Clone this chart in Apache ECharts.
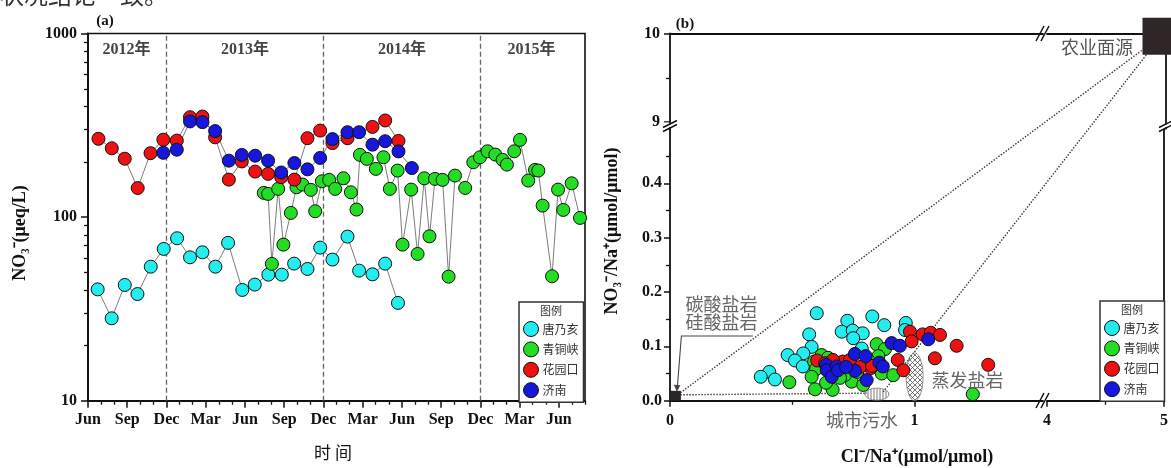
<!DOCTYPE html>
<html><head><meta charset="utf-8">
<script src="https://cdn.jsdelivr.net/npm/echarts@6/dist/echarts.min.js"></script>
<style>html,body{margin:0;padding:0;background:#fff;}#c{width:1171px;height:468px;}</style>
</head><body><div id="c"></div>
<script>
// ---------- data ----------
const stations = ['唐乃亥', '青铜峡', '花园口', '济南'];
const colors = ['#22eef0', '#22dd22', '#ee1111', '#1616dd'];
const monthNames = ['Jun', 'Sep', 'Dec', 'Mar'];   // month index 0 = Jun 2012
const majorMonths = [0, 3, 6, 9, 12, 15, 18, 21, 24, 27, 30, 33, 36];
const yearDividers = [6, 18, 30];
const yearLabels = ['2012年', '2013年', '2014年', '2015年'];
const yearLabelMonths = [2.95, 12, 24, 33.9];
const logTicks = [10, 100, 1000];

const tangMonth = [0.74,1.81,2.81,3.78,4.8,5.79,6.81,7.8,8.75,9.74,10.71,11.8,12.75,13.79,14.82,15.76,16.78,17.75,18.69,19.84,20.73,21.75,22.72,23.7];
const tangNO3 = [40.4,28.1,42.7,38.1,53.7,67.1,76.7,60.4,64.3,53.7,72.4,40.1,42.9,48.6,48.6,55.8,52.2,68.2,58.7,78.3,51.1,48.8,55.8,34.1];

const qtxMonth = [13.44,13.77,14.06,14.54,14.94,15.51,15.94,16.40,17.04,17.37,17.88,18.44,18.90,19.53,20.10,20.53,20.79,21.32,22.01,22.59,23.08,23.67,24.05,24.71,25.20,25.71,26.11,26.53,27.11,27.57,28.06,28.84,29.46,29.97,30.55,31.14,31.70,32.03,32.59,33.03,33.66,34.18,34.43,34.76,35.48,35.94,36.34,36.98,37.62];
const qtxNO3 = [135.5,133.8,55.6,142.5,70.8,105.4,145.4,150.4,140.7,107.6,156.7,159.5,142.5,162.7,136.5,109.9,218.3,207.6,183.1,211.8,142.5,179.2,70.8,141.2,63,162.7,78.6,161.5,159.5,47.4,168.3,144.2,198.9,211.8,228.3,219.1,205,193.2,228.3,263.5,158.1,180.8,179.2,115.5,47.6,141.2,109.4,152.8,99];

const hykMonth = [0.80,1.82,2.81,3.8,4.78,5.76,6.79,7.8,8.75,9.72,10.77,11.76,12.78,13.77,14.77,15.78,16.78,17.75,18.69,19.84,21.75,22.72,23.74];
const hykNO3 = [267,237,208,144,223,264,261,350,353,272,160,201,177,172,165,160,269,296,253,269,310,336,260];

const jnMonth = [5.76,6.79,7.8,8.75,9.72,10.77,11.76,12.78,13.77,14.77,15.78,16.78,17.75,18.69,19.84,20.73,21.75,22.72,23.74,24.76];
const jnNO3 = [224,233,332,329,294,203,218,216,203,175,197,182,210,266,290,290,248,259,228,185];

// panel b: Cl-/Na+ and NO3-/Na+
const tangCl = [0.600,0.827,0.725,0.876,0.964,0.961,0.702,0.747,0.788,0.749,0.569,0.579,0.545,0.481,0.511,0.543,0.406,0.371,0.429,0.784];
const tangRatio = [0.161,0.155,0.147,0.139,0.143,0.130,0.127,0.129,0.124,0.115,0.122,0.099,0.087,0.084,0.074,0.063,0.053,0.044,0.039,0.096];
const qtxCl = [0.488,0.589,0.597,0.579,0.593,0.665,0.620,0.743,0.766,0.790,0.845,0.879,0.852,0.866,0.913,1.238,0.646,0.715,0.810,0.638,0.695];
const qtxRatio = [0.034,0.072,0.058,0.044,0.021,0.020,0.084,0.035,0.053,0.029,0.104,0.095,0.082,0.050,0.047,0.012,0.079,0.047,0.075,0.033,0.042];
const hykCl = [0.602,0.634,0.706,0.736,0.821,0.931,0.954,0.981,0.988,1.033,1.066,1.104,1.172,1.083,1.301,0.777,0.666,0.826];
const hykRatio = [0.074,0.069,0.072,0.075,0.060,0.075,0.056,0.127,0.109,0.122,0.125,0.121,0.101,0.078,0.066,0.062,0.075,0.064];
const jnCl = [0.638,0.641,0.661,0.682,0.756,0.800,0.756,0.804,0.856,0.870,0.906,0.940,1.056,0.687,0.720];
const jnRatio = [0.066,0.056,0.044,0.063,0.086,0.082,0.055,0.038,0.070,0.063,0.106,0.101,0.113,0.056,0.062];

// end members
const carbonate = [0.022, 0.009];
const sewage = [0.846, 0.012];
const evaporite = [1.0, 0.044];
const agriculture = [4.958, 9.97];
const endLabels = { carbonate: ['碳酸盐岩', '硅酸盐岩'], sewage: '城市污水', evaporite: '蒸发盐岩', agriculture: '农业面源' };

const yTicksLow = [0, 0.1, 0.2, 0.3, 0.4];
const yMinorLow = [0.05, 0.15, 0.25, 0.35, 0.45];
const yTicksHigh = [9, 10];
const xTicksLeft = [0, 1];
const xTicksRight = [4, 5];

// ---------- helpers ----------
const SERIF = '"Liberation Serif","Noto Sans CJK SC",serif';
const CJK = '"Noto Sans CJK SC",sans-serif';
const zip = (a, b) => a.map((v, i) => [v, b[i]]);
const range = (a, b) => { const r = []; for (let i = a; i <= b; i++) r.push(i); return r; };
const lbl = { fontFamily: SERIF, fontWeight: 'bold', fontSize: 16, color: '#111' };
const axLine = { show: true, lineStyle: { color: '#111', width: 1.8 } };
function majorAxis(extra) {
  return Object.assign({ type: 'value', splitLine: { show: false }, axisLine: axLine }, extra);
}
function minorAxis(extra, vals) {
  return Object.assign({ type: 'value', splitLine: { show: false }, axisLine: { show: false },
    axisLabel: { show: false }, axisTick: { show: true, length: 4, customValues: vals, lineStyle: { color: '#111', width: 1.3 } } }, extra);
}
function lineOnly(extra) {
  return Object.assign({ type: 'value', splitLine: { show: false }, axisLine: axLine,
    axisTick: { show: false }, axisLabel: { show: false } }, extra);
}

const minorMonths = range(0, 38).filter(m => m % 3 !== 0);
const minorLog = [20,30,40,50,60,70,80,90,200,300,400,500,600,700,800,900];

const chart = echarts.init(document.getElementById('c'), null, { renderer: 'canvas' });

const aData = [zip(tangMonth, tangNO3), zip(qtxMonth, qtxNO3), zip(hykMonth, hykNO3), zip(jnMonth, jnNO3)];
const bData = [zip(tangCl, tangRatio), zip(qtxCl, qtxRatio), zip(hykCl, hykRatio), zip(jnCl, jnRatio)];

const series = [];
aData.forEach((d, i) => {
  series.push({
    type: 'line', name: stations[i], xAxisIndex: 0, yAxisIndex: 0, data: d,
    symbol: 'circle', symbolSize: 13, z: 3,
    itemStyle: { color: colors[i], borderColor: '#111', borderWidth: 1 },
    lineStyle: { color: '#444', width: 0.7 },
    markLine: i === 0 ? {
      silent: true, symbol: 'none', label: { show: false }, z: 1,
      lineStyle: { type: [5, 3], color: '#666', width: 1.3 },
      data: yearDividers.map(m => ({ xAxis: m }))
    } : undefined,
    animation: false
  });
});
bData.forEach((d, i) => {
  series.push({
    type: 'scatter', name: stations[i], xAxisIndex: 2, yAxisIndex: 2, data: d,
    symbol: 'circle', symbolSize: 13, z: 4,
    itemStyle: { color: colors[i], borderColor: '#111', borderWidth: 1, opacity: 1 },
    animation: false
  });
});
series.push({ type: 'scatter', name: '碳酸盐岩', xAxisIndex: 2, yAxisIndex: 2, data: [carbonate],
  symbol: 'rect', symbolSize: [11, 10], itemStyle: { color: '#2a2424', opacity: 1 }, z: 5, animation: false });
series.push({ type: 'scatter', name: '农业面源', xAxisIndex: 7, yAxisIndex: 7, data: [agriculture],
  symbol: 'rect', symbolSize: 37, clip: false, itemStyle: { color: '#2f2727', opacity: 1 }, z: 6, animation: false });

const option = {
  animation: false,
  backgroundColor: '#fff',
  grid: [
    { left: 88, top: 33.5, width: 497, height: 367.2, show: true, borderColor: '#111', borderWidth: 1.6, containLabel: false },
    { left: 670, top: 128.9, width: 373, height: 271.8 },   // LL
    { left: 670, top: 33.5, width: 373, height: 88.5 },     // UL
    { left: 1047, top: 128.9, width: 119, height: 271.8 },  // LR
    { left: 1047, top: 33.5, width: 119, height: 88.5 }     // UR
  ],
  xAxis: [
    majorAxis({ gridIndex: 0, min: 0, max: 38, position: 'bottom',
      axisTick: { show: true, length: 7, customValues: majorMonths, lineStyle: { color: '#111', width: 1.5 } },
      axisLabel: Object.assign({ customValues: majorMonths, margin: 11, formatter: v => monthNames[Math.round(v / 3) % 4] }, lbl) }),
    minorAxis({ gridIndex: 0, min: 0, max: 38, position: 'bottom' }, minorMonths),
    majorAxis({ gridIndex: 1, min: 0, max: 1.525, position: 'bottom',
      axisTick: { show: true, length: 6, customValues: xTicksLeft, lineStyle: { color: '#111', width: 1.5 } },
      axisLabel: Object.assign({ customValues: xTicksLeft, margin: 12, formatter: v => String(v) }, lbl) }),
    minorAxis({ gridIndex: 1, min: 0, max: 1.525, position: 'bottom' }, [0.5]),
    lineOnly({ gridIndex: 2, min: 0, max: 1.525, position: 'top' }),
    majorAxis({ gridIndex: 3, min: 4, max: 5, position: 'bottom',
      axisTick: { show: true, length: 6, customValues: xTicksRight, lineStyle: { color: '#111', width: 1.5 } },
      axisLabel: Object.assign({ customValues: xTicksRight, margin: 12, formatter: v => String(v) }, lbl) }),
    minorAxis({ gridIndex: 3, min: 4, max: 5, position: 'bottom' }, [4.5]),
    lineOnly({ gridIndex: 4, min: 4, max: 5, position: 'top' })
  ],
  yAxis: [
    { type: 'log', logBase: 10, gridIndex: 0, min: 10, max: 1000, position: 'left',
      splitLine: { show: false }, axisLine: axLine,
      axisTick: { show: true, length: 7, customValues: logTicks, lineStyle: { color: '#111', width: 1.5 } },
      axisLabel: Object.assign({ customValues: logTicks, margin: 11, formatter: v => String(Math.round(v)) }, lbl) },
    { type: 'log', logBase: 10, gridIndex: 0, min: 10, max: 1000, position: 'left',
      splitLine: { show: false }, axisLine: { show: false }, axisLabel: { show: false },
      axisTick: { show: true, length: 4, customValues: minorLog, lineStyle: { color: '#111', width: 1.3 } } },
    majorAxis({ gridIndex: 1, min: 0, max: 0.5, position: 'left',
      axisTick: { show: true, length: 6, customValues: yTicksLow, lineStyle: { color: '#111', width: 1.5 } },
      axisLabel: Object.assign({ customValues: yTicksLow, margin: 8, formatter: v => v.toFixed(1) }, lbl) }),
    minorAxis({ gridIndex: 1, min: 0, max: 0.5, position: 'left' }, yMinorLow),
    majorAxis({ gridIndex: 2, min: 9, max: 10, position: 'left',
      axisTick: { show: true, length: 6, customValues: yTicksHigh, lineStyle: { color: '#111', width: 1.5 } },
      axisLabel: Object.assign({ customValues: yTicksHigh, margin: 10, formatter: v => String(v) }, lbl) }),
    minorAxis({ gridIndex: 2, min: 9, max: 10, position: 'left' }, [9.5]),
    lineOnly({ gridIndex: 3, min: 0, max: 0.5, position: 'right' }),
    lineOnly({ gridIndex: 4, min: 9, max: 10, position: 'right' })
  ],
  legend: [0, 1].map(k => ({
    data: stations, left: k === 0 ? 519 : 1100, top: k === 0 ? 302 : 301,
    orient: 'vertical', icon: 'circle', itemWidth: 15, itemHeight: 15, itemGap: 4.4,
    padding: [19, 5, 4, 4], borderColor: '#333', borderWidth: 1.5, backgroundColor: '#fff',
    selectedMode: false, z: 10,
    itemStyle: { borderColor: '#111', borderWidth: 1 },
    textStyle: { fontFamily: CJK, fontSize: 12, color: '#333', padding: [0, 0, 0, -1] }
  })),
  series: series
};
chart.setOption(option);

// ---------- annotations positioned through the chart's own scales ----------
function px(xi, yi, p) { return chart.convertToPixel({ xAxisIndex: xi, yAxisIndex: yi }, p); }
function hatch(kind) {
  const c = document.createElement('canvas');
  c.width = c.height = kind === 'v' ? 3 : 5;
  const g = c.getContext('2d');
  g.strokeStyle = '#555'; g.lineWidth = 0.8;
  g.beginPath();
  if (kind === 'v') { g.moveTo(1, 0); g.lineTo(1, 3); }
  else { g.moveTo(0, 0); g.lineTo(5, 5); g.moveTo(5, 0); g.lineTo(0, 5); }
  g.stroke();
  return { image: c, repeat: 'repeat' };
}
const pCarb = px(2, 2, carbonate);
const pSew = px(2, 2, sewage);
const pEva = px(2, 2, evaporite);
const pAgri = px(7, 7, agriculture);
const dotted = { stroke: '#333', lineWidth: 1.4, lineDash: [1.4, 1.6], fill: null };
const txt = (x, y, s, o) => ({ type: 'text', x: x, y: y, silent: true, z: 20,
  style: Object.assign({ text: s, fill: '#666', font: '18px ' + CJK, textAlign: 'center', textVerticalAlign: 'middle' }, o || {}) });
const seg = (x1, y1, x2, y2, st) => ({ type: 'line', silent: true, z: 20,
  shape: { x1, y1, x2, y2 }, style: Object.assign({ stroke: '#111', lineWidth: 1.5 }, st || {}) });

const yearGraphics = yearLabels.map((s, i) => {
  const p = px(0, 0, [yearLabelMonths[i], 800]);
  return txt(p[0], 50, s, { fill: '#444', font: 'bold 16px ' + SERIF });
});

const graphic = [
  // partial sentence at top (cropped in the source)
  { type: 'text', x: 0, y: 7, silent: true, style: { text: '状况结论一致。', fill: '#333', font: '24px ' + CJK, textVerticalAlign: 'bottom' } },
  txt(105, 21, '(a)', { fill: '#111', font: 'bold 15px ' + SERIF }),
  txt(685, 24, '(b)', { fill: '#111', font: 'bold 15px ' + SERIF }),
  { type: 'text', x: 20, y: 233, rotation: Math.PI / 2, silent: true,
    style: { text: 'NO₃⁻(μeq/L)', fill: '#111', font: 'bold 18px ' + SERIF, textAlign: 'center', textVerticalAlign: 'middle' } },
  txt(333, 453, '时 间', { fill: '#111', font: '17px ' + CJK }),
  { type: 'text', x: 612, y: 231, rotation: Math.PI / 2, silent: true,
    style: { text: 'NO₃⁻/Na⁺(μmol/μmol)', fill: '#111', font: 'bold 18px ' + SERIF, textAlign: 'center', textVerticalAlign: 'middle' } },
  txt(917, 457, 'Cl⁻/Na⁺(μmol/μmol)', { fill: '#111', font: 'bold 18px ' + SERIF }),
  txt(551, 311, '图例', { fill: '#333', font: '11px ' + CJK }),
  txt(1132, 310, '图例', { fill: '#333', font: '11px ' + CJK }),
  // mixing lines
  { type: 'line', silent: true, z: 2, shape: { x1: pAgri[0], y1: pAgri[1], x2: pCarb[0] + 5, y2: pCarb[1] - 3 }, style: dotted },
  { type: 'line', silent: true, z: 2, shape: { x1: pAgri[0], y1: pAgri[1], x2: pSew[0] + 6, y2: pSew[1] - 2 }, style: dotted },
  { type: 'line', silent: true, z: 2, shape: { x1: pCarb[0] + 5, y1: pCarb[1] - 1, x2: pSew[0] - 10, y2: pSew[1] - 1 }, style: dotted },
  // end-member ellipses
  { type: 'ellipse', silent: true, z: 3, shape: { cx: pSew[0], cy: pSew[1], rx: 12, ry: 6 }, style: { fill: hatch('v'), stroke: '#777', lineWidth: 0.8 } },
  { type: 'ellipse', silent: true, z: 3, shape: { cx: pEva[0], cy: pEva[1], rx: 8.5, ry: 24 }, style: { fill: hatch('x'), stroke: '#777', lineWidth: 0.8 } },
  // end-member labels
  txt(pCarb[0] + 46, 304.5, endLabels.carbonate[0]),
  txt(pCarb[0] + 46, 322.5, endLabels.carbonate[1]),
  txt(pSew[0] - 15, 420, endLabels.sewage),
  txt(pEva[0] + 53, 380, endLabels.evaporite),
  txt(pAgri[0] - 64, 47, endLabels.agriculture, { fill: '#555' }),
  // arrow to carbonate/silicate
  { type: 'polyline', silent: true, z: 20, shape: { points: [[753, 336], [pCarb[0] + 6, 336], [pCarb[0] + 2, pCarb[1] - 9]] }, style: { stroke: '#444', lineWidth: 1.1, fill: null } },
  { type: 'polygon', silent: true, z: 20, shape: { points: [[pCarb[0] + 1.5, pCarb[1] - 4], [pCarb[0] - 1.5, pCarb[1] - 11], [pCarb[0] + 5, pCarb[1] - 10.5]] }, style: { fill: '#444' } },
  // axis breaks (y left / right)
  { type: 'rect', silent: true, z: 19, shape: { x: 662, y: 122.5, width: 16, height: 6 }, style: { fill: '#fff' } },
  seg(670, 122, 670, 124.5), seg(670, 127, 670, 129.5),
  seg(663, 127.5, 677, 120.5), seg(663, 131.5, 677, 124.5),
  { type: 'rect', silent: true, z: 19, shape: { x: 1158, y: 122.5, width: 16, height: 6 }, style: { fill: '#fff' } },
  seg(1166, 122, 1166, 124.5), seg(1166, 127, 1166, 129.5),
  seg(1159, 127.5, 1173, 120.5), seg(1159, 131.5, 1173, 124.5),
  // axis breaks (x bottom / top)
  seg(1036, 408, 1044, 393), seg(1041, 408, 1049, 393),
  seg(1036, 41, 1044, 26), seg(1041, 41, 1049, 26)
].concat(yearGraphics);

chart.setOption({ graphic: graphic });
</script>
</body></html>
